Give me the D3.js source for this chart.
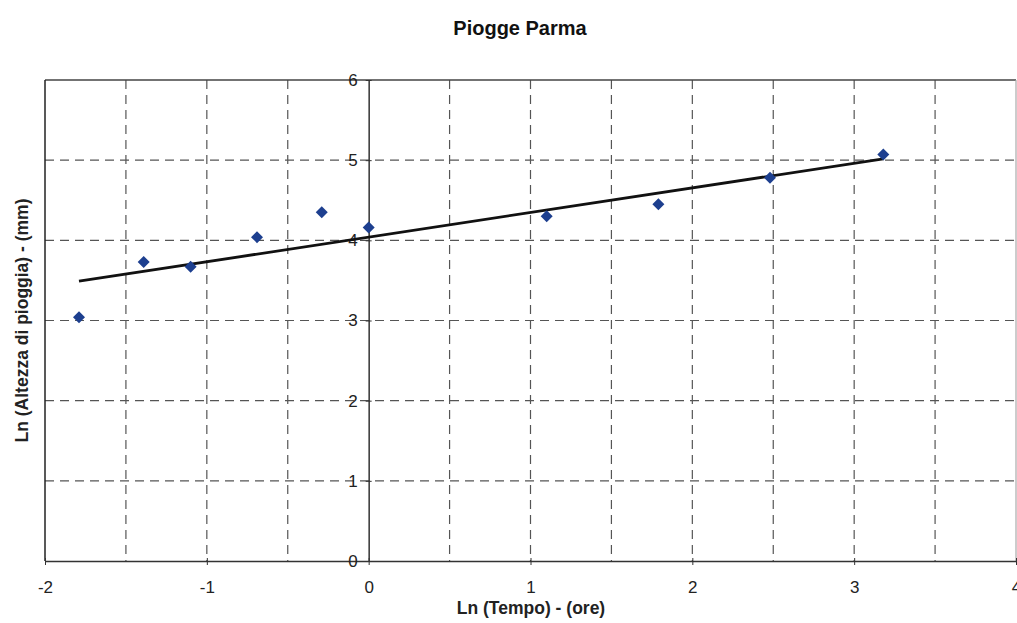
<!DOCTYPE html>
<html>
<head>
<meta charset="utf-8">
<script src="https://cdn.jsdelivr.net/npm/d3@7"></script>
<style>
body { margin: 0; background: #fff; }
text { font-family: "Liberation Sans", Arial, sans-serif; }
.tick text { font-size: 17px; }
</style>
</head>
<body>
<div id="chart"></div>
<script>
// ln(tempo) vs ln(altezza) - Piogge Parma
var lnTempo = [-1.79, -1.39, -1.10, -0.69, -0.29, 0.00, 1.10, 1.79, 2.48, 3.18];
var lnAltezza = [3.04, 3.73, 3.67, 4.04, 4.35, 4.16, 4.30, 4.45, 4.78, 5.07];
var trendX = [-1.79, 3.18];
var trendSlope = 0.307;
var trendIntercept = 4.04;
var xTicks = [-2, -1, 0, 1, 2, 3, 4];
var xGrid = [-1.5, -1, -0.5, 0.5, 1, 1.5, 2, 2.5, 3, 3.5];
var yTicks = [0, 1, 2, 3, 4, 5, 6];

var width = 1017, height = 623;
// NOTE: "top" is reserved on window, so use plot* names
var plotLeft = 45, plotTop = 80, plotRight = 1016, plotBottom = 561;

var svg = d3.select("#chart").append("svg")
	.attr("width", width)
	.attr("height", height);

var x = d3.scaleLinear().domain([-2, 4]).range([plotLeft, plotRight]);
var y = d3.scaleLinear().domain([0, 6]).range([plotBottom, plotTop]);

// grid lines (dashed)
svg.selectAll(".vgrid").data(xGrid).enter().append("line")
	.attr("x1", function(d){ return x(d); })
	.attr("x2", function(d){ return x(d); })
	.attr("y1", plotTop).attr("y2", plotBottom)
	.attr("stroke", "#555").attr("stroke-width", 1.2)
	.attr("stroke-dasharray", "9,6");

svg.selectAll(".hgrid").data(yTicks.filter(function(d){ return d > 0 && d < 6; })).enter().append("line")
	.attr("x1", plotLeft).attr("x2", plotRight)
	.attr("y1", function(d){ return y(d); })
	.attr("y2", function(d){ return y(d); })
	.attr("stroke", "#555").attr("stroke-width", 1.2)
	.attr("stroke-dasharray", "9,6");

// frame
svg.append("line").attr("x1", plotLeft).attr("x2", plotRight).attr("y1", plotTop).attr("y2", plotTop)
	.attr("stroke", "#444").attr("stroke-width", 1.5);
svg.append("line").attr("x1", plotLeft).attr("x2", plotLeft).attr("y1", plotTop).attr("y2", plotBottom)
	.attr("stroke", "#222").attr("stroke-width", 1.5);
svg.append("line").attr("x1", plotRight).attr("x2", plotRight).attr("y1", plotTop).attr("y2", plotBottom)
	.attr("stroke", "#aaa").attr("stroke-width", 1.2);

// x axis at y = 0
var xAxis = d3.axisBottom(x).tickValues(xTicks).tickSize(5).tickSizeOuter(0)
	.tickFormat(d3.format("d"));
var gx = svg.append("g").attr("transform", "translate(0," + y(0) + ")").call(xAxis);
gx.select(".domain").attr("stroke", "#333").attr("stroke-width", 1.5);
gx.selectAll(".tick line").attr("stroke", "#333").attr("y1", -3).attr("y2", 4);
gx.selectAll(".tick text").attr("fill", "#222")
	.attr("y", 32).attr("dy", 0)
	.text(function(d){ return d < 0 ? "-" + Math.abs(d) : d; });

// y axis at x = 0
var yAxis = d3.axisLeft(y).tickValues(yTicks).tickSize(4).tickSizeOuter(0)
	.tickFormat(d3.format("d"));
var gy = svg.append("g").attr("transform", "translate(" + x(0) + ",0)").call(yAxis);
gy.select(".domain").attr("stroke", "#333").attr("stroke-width", 1.5);
gy.selectAll(".tick line").attr("stroke", "#333").attr("x1", -3).attr("x2", 3);
gy.selectAll(".tick text").attr("fill", "#222").attr("x", -11);

// trend line
var line = d3.line()
	.x(function(d){ return x(d); })
	.y(function(d){ return y(trendIntercept + trendSlope * d); });
svg.append("path").datum(trendX)
	.attr("d", line)
	.attr("fill", "none")
	.attr("stroke", "#111")
	.attr("stroke-width", 2.8);

// points (diamonds = rotated squares)
var diamond = d3.symbol().type(d3.symbolSquare).size(72);
svg.selectAll(".pt").data(lnTempo).enter().append("path")
	.attr("d", diamond)
	.attr("transform", function(d, i){ return "translate(" + x(d) + "," + y(lnAltezza[i]) + ") rotate(45)"; })
	.attr("fill", "#1d3f8f");

// titles
svg.append("text").attr("x", 520).attr("y", 35)
	.attr("text-anchor", "middle").attr("font-size", 20).attr("font-weight", "bold")
	.attr("fill", "#111").text("Piogge Parma");

svg.append("text").attr("x", 531).attr("y", 614)
	.attr("text-anchor", "middle").attr("font-size", 17.5).attr("font-weight", "bold")
	.attr("fill", "#222").text("Ln (Tempo) - (ore)");

svg.append("text")
	.attr("transform", "translate(28," + ((plotTop + plotBottom) / 2) + ") rotate(-90)")
	.attr("text-anchor", "middle").attr("font-size", 17.5).attr("font-weight", "bold")
	.attr("fill", "#222").text("Ln (Altezza di pioggia) - (mm)");
</script>
</body>
</html>
